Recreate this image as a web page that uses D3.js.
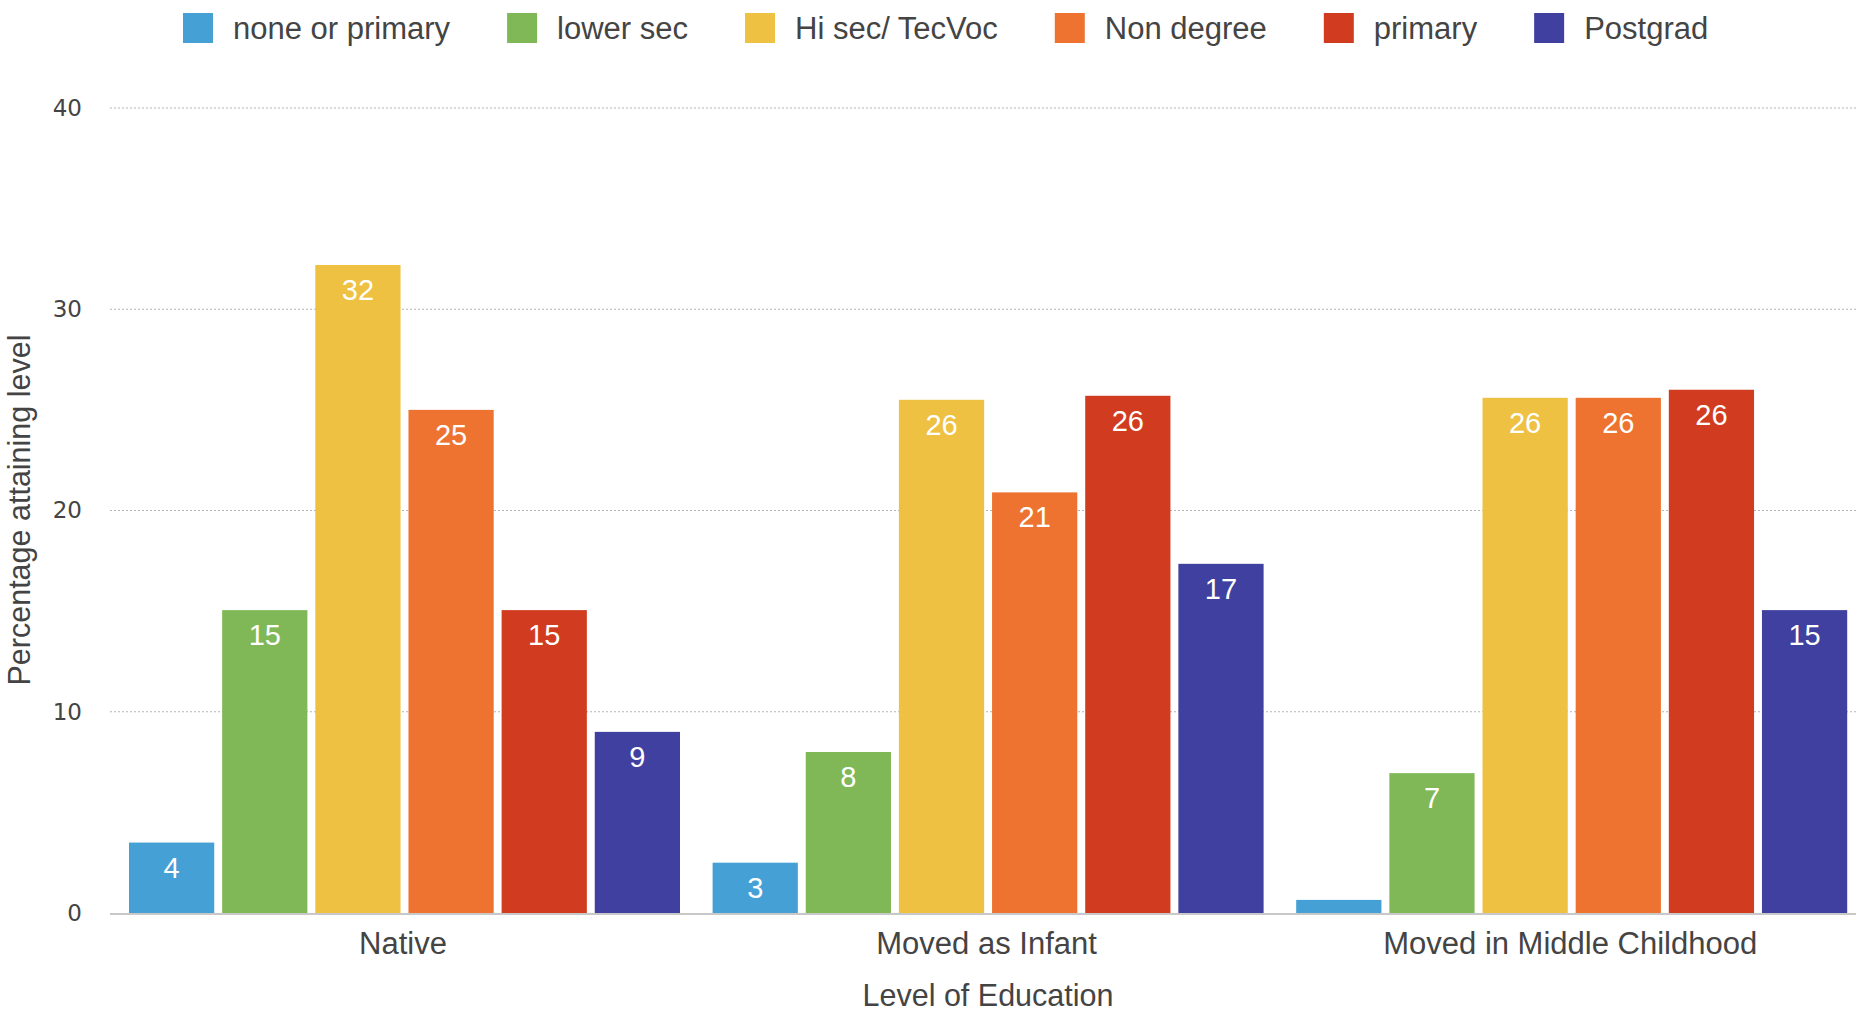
<!DOCTYPE html>
<html>
<head>
<meta charset="utf-8">
<script src="https://cdn.jsdelivr.net/npm/d3@7/dist/d3.min.js"></script>
<style>
  body { margin: 0; background: #fff; }
  svg { display: block; font-family: "Liberation Sans", Arial, sans-serif; }
</style>
</head>
<body>
<div id="chart"></div>
<script>
// Chart data
const categories = ["Native", "Moved as Infant", "Moved in Middle Childhood"];
const seriesNames = ["none or primary", "lower sec", "Hi sec/ TecVoc", "Non degree", "primary", "Postgrad"];
const seriesColors = ["#45a0d6", "#80b858", "#eec142", "#ee7330", "#d13b20", "#4040a0"];
const noneOrPrimary = [3.5, 2.5, 0.65];
const lowerSec = [15.05, 8.0, 6.95];
const hiSecTecVoc = [32.2, 25.5, 25.6];
const nonDegree = [25.0, 20.9, 25.6];
const primary = [15.05, 25.7, 26.0];
const postgrad = [9.0, 17.35, 15.05];
const yTicks = [0, 10, 20, 30, 40];

const seriesValues = [noneOrPrimary, lowerSec, hiSecTecVoc, nonDegree, primary, postgrad];

const width = 1856;
const height = 1011;
const margin = { top: 108, bottom: 98, left: 110 };

const svg = d3.select("#chart")
    .append("svg")
    .attr("width", width)
    .attr("height", height);

// Scales (the plot runs slightly past the right edge, as in the original)
const x0 = d3.scaleBand()
    .domain(categories)
    .range([margin.left, margin.left + 3 * 583.6])
    .padding(0);

const x1 = d3.scaleBand()
    .domain(seriesNames)
    .range([19, 570])
    .paddingInner(0.085);

const y = d3.scaleLinear()
    .domain([0, 40])
    .range([height - margin.bottom, margin.top]);

// Gridlines
svg.append("g")
    .selectAll("line")
    .data(yTicks.filter(d => d > 0))
    .enter()
    .append("line")
    .attr("x1", margin.left)
    .attr("x2", width)
    .attr("y1", d => y(d))
    .attr("y2", d => y(d))
    .attr("stroke", "#b5b5b5")
    .attr("stroke-width", 1)
    .attr("stroke-dasharray", "2,2");

// Y axis labels
const yAxis = svg.append("g")
    .attr("transform", `translate(${margin.left}, 0)`)
    .call(d3.axisLeft(y).tickValues(yTicks).tickSize(0).tickPadding(28));
yAxis.select(".domain").remove();
yAxis.selectAll("text")
    .attr("font-size", "23px")
    .attr("font-family", "'DejaVu Sans', Verdana, sans-serif")
    .attr("fill", "#444");

// Bars
const rows = [];
categories.forEach((c, i) => {
    seriesNames.forEach((s, j) => {
        rows.push({ category: c, series: s, value: seriesValues[j][i], color: seriesColors[j] });
    });
});

const bars = svg.append("g")
    .selectAll("g")
    .data(rows)
    .enter()
    .append("g")
    .attr("transform", d => `translate(${x0(d.category) + x1(d.series)}, 0)`);

bars.append("rect")
    .attr("x", 0)
    .attr("y", d => y(d.value))
    .attr("width", x1.bandwidth())
    .attr("height", d => y(0) - y(d.value))
    .attr("fill", d => d.color);

bars.filter(d => y(0) - y(d.value) > 30)
    .append("text")
    .attr("x", x1.bandwidth() / 2)
    .attr("y", d => y(d.value) + 35)
    .attr("text-anchor", "middle")
    .attr("font-size", "29px")
    .attr("fill", "#fff")
    .text(d => Math.round(d.value));

// Baseline
svg.append("line")
    .attr("x1", margin.left)
    .attr("x2", width)
    .attr("y1", y(0) + 1)
    .attr("y2", y(0) + 1)
    .attr("stroke", "#c8c8c8")
    .attr("stroke-width", 2);

// X axis category labels
svg.append("g")
    .selectAll("text")
    .data(categories)
    .enter()
    .append("text")
    .attr("x", d => x0(d) + 293)
    .attr("y", 954)
    .attr("text-anchor", "middle")
    .attr("font-size", "31px")
    .attr("fill", "#444")
    .text(d => d);

// Axis titles
svg.append("text")
    .attr("x", 988)
    .attr("y", 1006)
    .attr("text-anchor", "middle")
    .attr("font-size", "30.5px")
    .attr("fill", "#444")
    .text("Level of Education");

svg.append("text")
    .attr("transform", `translate(30, 510) rotate(-90)`)
    .attr("text-anchor", "middle")
    .attr("font-size", "30.5px")
    .attr("fill", "#444")
    .text("Percentage attaining level");

// Legend
const legend = svg.append("g").attr("transform", "translate(183, 0)");
let lx = 0;
seriesNames.forEach((s, i) => {
    const item = legend.append("g").attr("transform", `translate(${lx}, 0)`);
    item.append("rect")
        .attr("x", 0)
        .attr("y", 13)
        .attr("width", 30)
        .attr("height", 30)
        .attr("fill", seriesColors[i]);
    const t = item.append("text")
        .attr("x", 50)
        .attr("y", 39)
        .attr("font-size", "31px")
        .attr("fill", "#444")
        .text(s);
    lx += 50 + t.node().getComputedTextLength() + 57;
});
</script>
</body>
</html>
